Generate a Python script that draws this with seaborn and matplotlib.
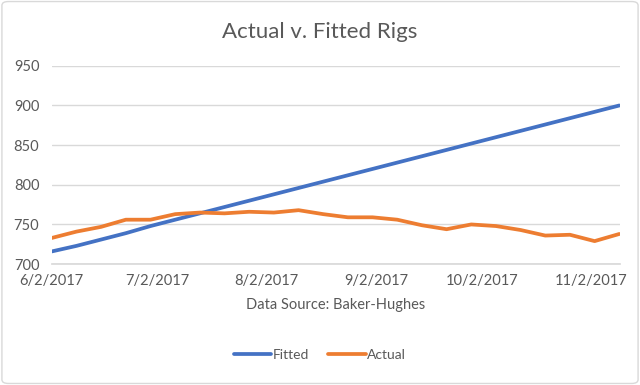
import matplotlib
matplotlib.use("Agg")
import matplotlib.pyplot as plt
import seaborn as sns
import pandas as pd
import numpy as np
from matplotlib.patches import FancyBboxPatch
from matplotlib.lines import Line2D

dates = pd.date_range("2017-06-02", periods=24, freq="7D")
fitted = [716, 723, 731, 739, 748, 756, 764, 772, 780, 788, 796, 804,
          812, 820, 828, 836, 844, 852, 860, 868, 876, 884, 892, 900]
actual = [733, 741, 747, 756, 756, 763, 765, 764, 766, 765, 768, 763,
          759, 759, 756, 749, 744, 750, 748, 743, 736, 737, 729, 738]
tick_dates = pd.to_datetime(["2017-06-02", "2017-07-02", "2017-08-02",
                             "2017-09-02", "2017-10-02", "2017-11-02"])
tick_labels = ["6/2/2017", "7/2/2017", "8/2/2017", "9/2/2017", "10/2/2017", "11/2/2017"]
y_ticks = [700, 750, 800, 850, 900, 950]

sns.set_theme(style="white")
plt.rcParams["font.family"] = ["Lato", "DejaVu Sans"]

df = pd.DataFrame({"date": list(dates) * 2,
                   "value": fitted + actual,
                   "series": ["Fitted"] * 24 + ["Actual"] * 24})

fig = plt.figure(figsize=(6.4, 3.85), dpi=100)
ax = fig.add_axes([0.081, 0.314, 0.888, 0.515])
sns.lineplot(data=df, x="date", y="value", hue="series",
             palette={"Fitted": "#4472C4", "Actual": "#ED7D31"},
             linewidth=2.7, ax=ax, legend=False)

ax.set_xlim(dates[0], dates[-1] + pd.Timedelta(hours=6))
ax.set_ylim(700, 950)
ax.set_yticks(y_ticks)
ax.set_xticks(tick_dates)
ax.set_xticklabels(tick_labels)
ax.grid(axis="y", color="#D9D9D9", linewidth=1)
ax.grid(axis="x", visible=False)
for s in ["left", "right", "top"]:
    ax.spines[s].set_visible(False)
ax.spines["bottom"].set_color("#D9D9D9")
ax.tick_params(axis="both", length=0, labelsize=10.5, colors="#595959")
ax.tick_params(axis="x", pad=7)
ax.tick_params(axis="y", pad=9)
ax.set_ylabel("")
ax.set_xlabel("Data Source: Baker-Hughes", fontsize=10.5, color="#595959", labelpad=7)

fig.text(0.5, 0.917, "Actual v. Fitted Rigs", ha="center", va="center",
         fontsize=16, color="#595959")

handles = [Line2D([], [], color="#4472C4", lw=2.7),
           Line2D([], [], color="#ED7D31", lw=2.7)]
leg = fig.legend(handles, ["Fitted", "Actual"], loc="center", bbox_to_anchor=(0.5, 0.078),
                 ncol=2, frameon=False, fontsize=10, handlelength=2.7,
                 handletextpad=0.1, columnspacing=1.4)
for t in leg.get_texts():
    t.set_color("#595959")

border = FancyBboxPatch((0.003, 0.004), 0.994, 0.992, boxstyle="round,pad=0,rounding_size=0.01",
                        transform=fig.transFigure, fill=False, edgecolor="#D9D9D9", linewidth=1)
fig.patches.append(border)

fig.savefig("out.png", dpi=100)
